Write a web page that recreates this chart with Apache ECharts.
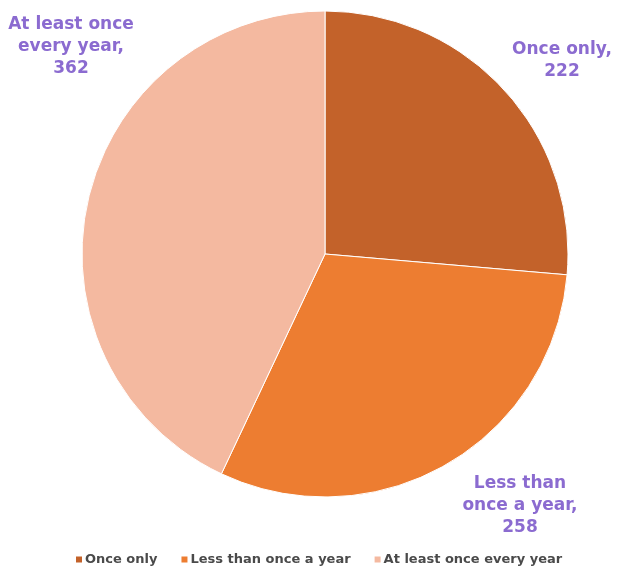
<!DOCTYPE html>
<html>
<head>
<meta charset="utf-8">
<script src="https://cdn.jsdelivr.net/npm/echarts@6/dist/echarts.min.js"></script>
<style>
  html, body { margin: 0; padding: 0; background: #ffffff; }
  #chart { width: 623px; height: 569px; }
</style>
</head>
<body>
<div id="chart"></div>
<script>
// Frequency categories and their counts
const categories = ['Once only', 'Less than once a year', 'At least once every year'];
const counts = [222, 258, 362];
const labelNames = ['Once only', 'Less than\nonce a year', 'At least once\nevery year'];
const sliceColors = ['#C3622A', '#ED7D31', '#F4B9A0'];

// Where each slice label sits (center of the text block, in px)
const labelSpots = [[562, 61], [520, 506], [71, 47]];

const chart = echarts.init(document.getElementById('chart'));

chart.setOption({
  animation: false,
  color: sliceColors,
  legend: {
    top: 548,
    left: 69,
    icon: 'rect',
    itemWidth: 8,
    itemHeight: 8,
    itemGap: 22,
    textStyle: {
      fontFamily: 'DejaVu Sans',
      fontWeight: 'bold',
      fontSize: 13,
      color: '#4a4a4a',
      padding: [0, 0, 0, -3]
    },
    data: categories
  },
  series: [{
    type: 'pie',
    center: [325, 254],
    radius: 243,
    startAngle: 90,
    clockwise: true,
    itemStyle: { borderColor: '#ffffff', borderWidth: 1 },
    label: {
      show: true,
      position: 'outside',
      overflow: 'none',
      formatter: p => labelNames[p.dataIndex] + ',\n' + p.value,
      fontFamily: 'DejaVu Sans',
      fontWeight: 'bold',
      fontSize: 17,
      lineHeight: 22,
      color: '#8B6BD0',
      align: 'center'
    },
    labelLine: { show: false },
    labelLayout: p => ({
      x: labelSpots[p.dataIndex][0],
      y: labelSpots[p.dataIndex][1],
      align: 'center',
      verticalAlign: 'middle'
    }),
    data: categories.map((c, i) => ({ name: c, value: counts[i] }))
  }]
});
</script>
</body>
</html>
